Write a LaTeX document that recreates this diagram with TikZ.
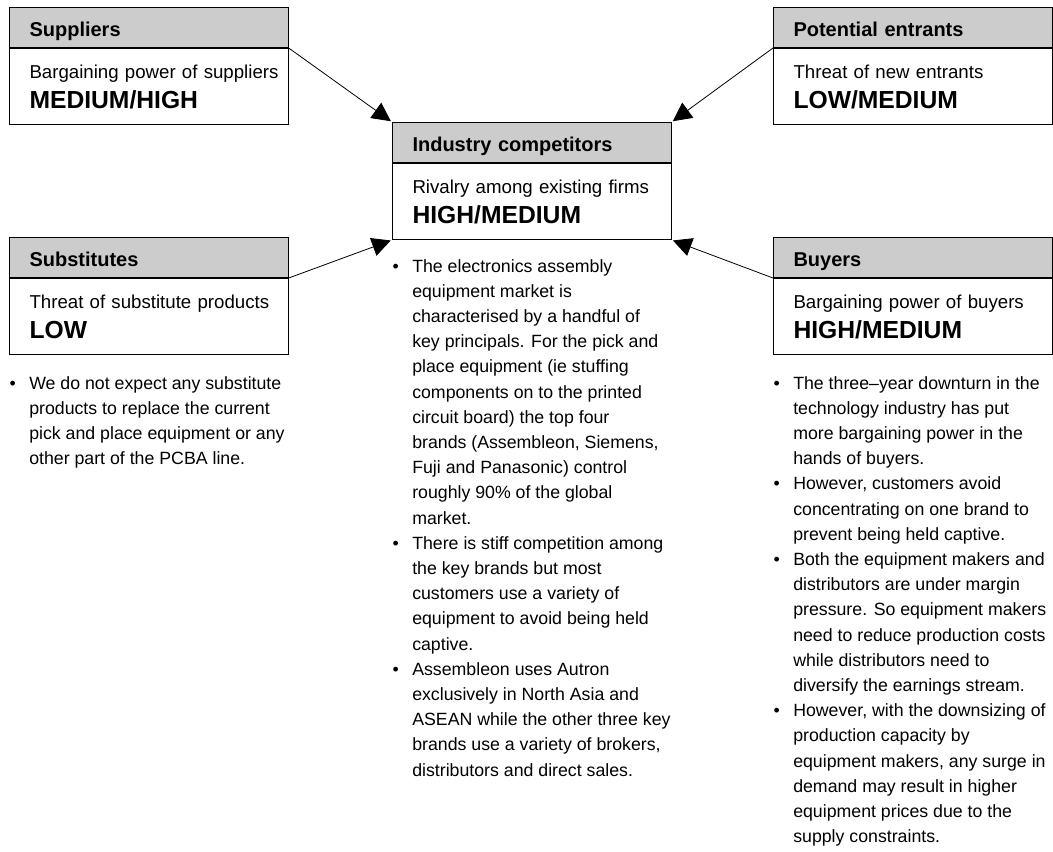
\documentclass[tikz,border=0pt]{standalone}
\usepackage{fontspec}
\setmainfont{Liberation Sans}
\usepackage{xcolor}
\definecolor{ink}{RGB}{0,0,0}
\definecolor{hdrgray}{RGB}{204,204,204}
\usepackage{enumitem}
\setlist[itemize]{label=\textbullet, leftmargin=14pt, labelsep=10pt,
  itemsep=0pt, parsep=0pt, topsep=0pt, partopsep=0pt}
\usetikzlibrary{arrows.meta,positioning}
\newcommand{\forcedesc}[1]{\makebox[179pt][l]{#1}}
\newcommand{\rating}[1]{{\fontsize{18.5}{22.5}\selectfont\bfseries #1}}
\tikzset{
  forcehead/.style={draw=ink, fill=hdrgray, line width=0.75pt,
    anchor=north west, inner xsep=15pt, text width=179pt,
    minimum height=30pt, text height=13.5pt, text depth=0pt,
    font=\fontsize{15}{18}\selectfont\bfseries},
  forcebody/.style={draw=ink, fill=white, line width=0.75pt,
    inner xsep=15pt, text width=179pt, minimum height=57pt,
    align=left, font=\fontsize{14}{22.5}\selectfont},
  forcelist/.style={anchor=north west, inner sep=0pt,
    font=\fontsize{13.3}{18.9}\selectfont},
  forcearrow/.style={-{Triangle[length=14pt,width=14pt]},
    draw=ink, line width=0.6pt, shorten >=1pt},
}

\begin{document}
\begin{tikzpicture}[x=0.75pt,y=-0.75pt]
\useasboundingbox (0,0) rectangle (1053,851);

% the five forces
\node[forcehead] (sup-h) at (9,7) {Suppliers};
\node[forcebody, below=0pt of sup-h] (sup)
  {\forcedesc{Bargaining power of suppliers}\\ \rating{MEDIUM/HIGH}};
\node[forcehead] (ent-h) at (773,7) {Potential entrants};
\node[forcebody, below=0pt of ent-h] (ent)
  {\forcedesc{Threat of new entrants}\\ \rating{LOW/MEDIUM}};
\node[forcehead] (comp-h) at (392,122) {Industry competitors};
\node[forcebody, below=0pt of comp-h] (comp)
  {\forcedesc{Rivalry among existing firms}\\ \rating{HIGH/MEDIUM}};
\node[forcehead] (sub-h) at (9,237) {Substitutes};
\node[forcebody, below=0pt of sub-h] (sub)
  {\forcedesc{Threat of substitute products}\\ \rating{LOW}};
\node[forcehead] (buy-h) at (773,237) {Buyers};
\node[forcebody, below=0pt of buy-h] (buy)
  {\forcedesc{Bargaining power of buyers}\\ \rating{HIGH/MEDIUM}};

\draw[forcearrow] (sup-h.south east) -- (comp-h.north west);
\draw[forcearrow] (ent-h.south west) -- (comp-h.north east);
\draw[forcearrow] (sub-h.south east) -- (comp.south west);
\draw[forcearrow] (buy-h.south west) -- (comp.south east);

% comments under the boxes
\node[forcelist, below=15.75pt of sub.south west, anchor=north west, xshift=1pt] (sub-list) {%
\begin{minipage}[t]{250pt}\begin{itemize}
\item We do not expect any substitute\\ products to replace the current\\
  pick and place equipment or any\\ other part of the PCBA line.
\end{itemize}\end{minipage}};
\node[forcelist, below=14.25pt of comp.south west, anchor=north west, xshift=1pt] (comp-list) {%
\begin{minipage}[t]{250pt}\begin{itemize}
\item The electronics assembly\\ equipment market is\\
  characterised by a handful of\\ key principals. For the pick and\\
  place equipment (ie stuffing\\ components on to the printed\\
  circuit board) the top four\\ brands (Assembleon, Siemens,\\
  Fuji and Panasonic) control\\ roughly 90\% of the global\\ market.
\item There is stiff competition among\\ the key brands but most\\
  customers use a variety of\\ equipment to avoid being held\\ captive.
\item Assembleon uses Autron\\ exclusively in North Asia and\\
  ASEAN while the other three key\\ brands use a variety of brokers,\\
  distributors and direct sales.
\end{itemize}\end{minipage}};
\node[forcelist, below=15.75pt of buy.south west, anchor=north west, xshift=1pt] (buy-list) {%
\begin{minipage}[t]{250pt}\begin{itemize}
\item The three--year downturn in the\\ technology industry has put\\
  more bargaining power in the\\ hands of buyers.
\item However, customers avoid\\ concentrating on one brand to\\
  prevent being held captive.
\item Both the equipment makers and\\ distributors are under margin\\
  pressure. So equipment makers\\ need to reduce production costs\\
  while distributors need to\\ diversify the earnings stream.
\item However, with the downsizing of\\ production capacity by\\
  equipment makers, any surge in\\ demand may result in higher\\
  equipment prices due to the\\ supply constraints.
\end{itemize}\end{minipage}};
\end{tikzpicture}
\end{document}
